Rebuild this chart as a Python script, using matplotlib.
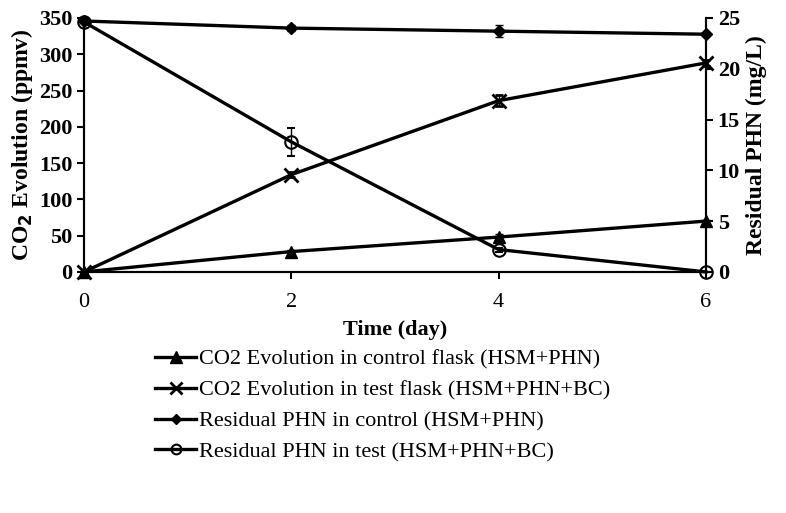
import matplotlib.pyplot as plt
from matplotlib.lines import Line2D
import numpy as np

plt.rcParams["font.family"] = ["Liberation Serif", "DejaVu Serif"]

# data
days = [0, 2, 4, 6]
co2_control = [0, 28, 48, 70]
co2_control_err = [0, 2, 4, 2]
co2_test = [0, 134, 236, 288]
co2_test_err = [0, 3, 8, 4]
phn_control = [24.7, 24.0, 23.7, 23.4]
phn_control_err = [0, 0.3, 0.6, 0.2]
phn_test = [24.6, 12.8, 2.2, 0]
phn_test_err = [0, 1.4, 0.2, 0]

fig = plt.figure(figsize=(7.86, 5.13), dpi=100)
ax = fig.add_axes([0.107, 0.470, 0.791, 0.495])
ax2 = ax.twinx()

lw = 2.4
ax.errorbar(days, co2_control, yerr=co2_control_err, color="black", lw=lw,
            marker="^", ms=9, capsize=3, elinewidth=1, clip_on=False, zorder=3)
ax.errorbar(days, co2_test, yerr=co2_test_err, color="black", lw=lw,
            marker="x", ms=10, mew=2, capsize=3, elinewidth=1, clip_on=False, zorder=3)
ax2.errorbar(days, phn_control, yerr=phn_control_err, color="black", lw=lw,
             marker="D", ms=6, capsize=3, elinewidth=1, clip_on=False, zorder=3)
ax2.errorbar(days, phn_test, yerr=phn_test_err, color="black", lw=lw,
             marker="o", ms=9, mfc="none", mew=1.5, capsize=3, elinewidth=1,
             clip_on=False, zorder=3)

ax.set_xlim(0, 6)
ax.set_ylim(0, 350)
ax2.set_ylim(0, 25)
ax.set_xticks([0, 2, 4, 6])
ax.set_yticks(np.arange(0, 351, 50))
ax2.set_yticks(np.arange(0, 26, 5))

for a in (ax, ax2):
    a.spines["top"].set_visible(False)
    for s in a.spines.values():
        s.set_linewidth(1.5)
    a.tick_params(width=1.5, length=5)

for lab in ax.get_yticklabels() + ax2.get_yticklabels():
    lab.set_fontweight("bold")
    lab.set_fontsize(16)
for lab in ax.get_xticklabels():
    lab.set_fontsize(16)
ax.tick_params(axis="x", pad=10)

ax.set_xlabel("Time (day)", fontsize=16, fontweight="bold", labelpad=6)
ax.set_ylabel(r"CO$_\mathbf{2}$ Evolution (ppmv)", fontsize=17, fontweight="bold", labelpad=3)
ax2.set_ylabel("Residual PHN (mg/L)", fontsize=17, fontweight="bold", labelpad=4)

labels = ["CO2 Evolution in control flask (HSM+PHN)",
          "CO2 Evolution in test flask (HSM+PHN+BC)",
          "Residual PHN in control (HSM+PHN)",
          "Residual PHN in test (HSM+PHN+BC)"]
handles = [Line2D([], [], color="black", lw=2.4, marker="^", ms=8),
           Line2D([], [], color="black", lw=2.4, marker="x", ms=9, mew=2),
           Line2D([], [], color="black", lw=2.4, marker="D", ms=5.5),
           Line2D([], [], color="black", lw=2.4, marker="o", ms=7, mfc="none", mew=1.5)]
fig.legend(handles, labels, loc="upper left", bbox_to_anchor=(0.172, 0.358),
           frameon=False, fontsize=16, handlelength=1.85, handletextpad=0.1,
           labelspacing=0.46)

fig.savefig("out.png", dpi=100)
